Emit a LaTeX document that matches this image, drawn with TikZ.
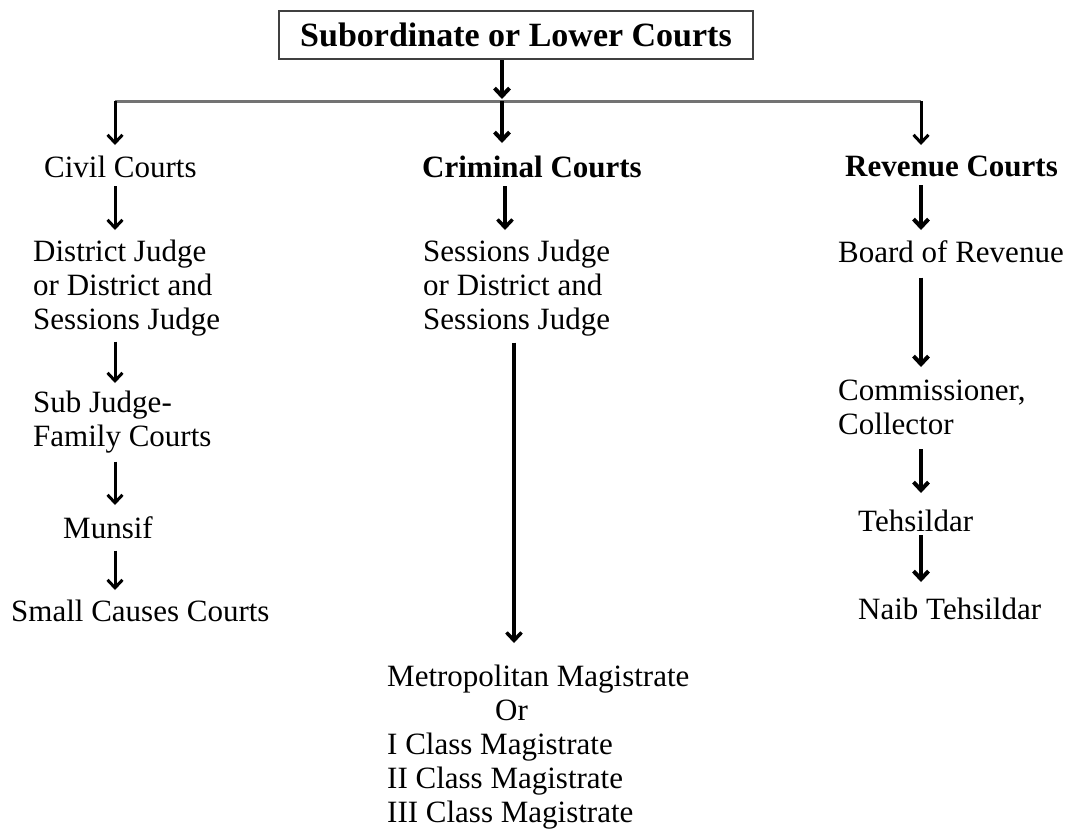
\documentclass[tikz,border=0pt]{standalone}
\usepackage{fontspec}
\setmainfont{Liberation Serif}
\usetikzlibrary{arrows.meta}
\begin{document}
\begin{tikzpicture}[x=1pt,y=-1pt,
  lbl/.style={inner sep=0pt,anchor=north west,align=left,font=\fontsize{31}{34}\selectfont},
  hdr/.style={lbl,font=\fontsize{31}{34}\selectfont\bfseries},
  arr/.style={-{Straight Barb[length=8pt,width=15pt]},line width=3pt,shorten <=8pt,shorten >=10pt},
  thk/.style={line width=4pt}]
\useasboundingbox (0,0) rectangle (1071,831);

% Top box
\node[draw=black!75,line width=2.5pt,minimum width=474pt,minimum height=48pt,
  font=\fontsize{34}{36}\selectfont\bfseries] (title) at (516,35) {Subordinate or Lower Courts};

% Branch points
\coordinate (split) at (502,101);
\coordinate (lft) at (115,101);
\coordinate (rgt) at (921,101);
\coordinate (cx) at (115,0);
\coordinate (kx) at (505,0);
\coordinate (mx) at (514,0);
\coordinate (rx) at (921,0);

% Labels
\node[lbl] (civil) at (44,156) {Civil Courts};
\node[hdr] (crim) at (422,156) {Criminal Courts};
\node[hdr] (rev) at (845,156) {Revenue Courts};
\node[lbl] (dj) at (33,240) {District Judge\\or District and\\Sessions Judge};
\node[lbl] (sub) at (33,391) {Sub Judge-\\Family Courts};
\node[lbl] (munsif) at (63,516) {Munsif};
\node[lbl] (small) at (11,600) {Small Causes Courts};
\node[lbl] (sj) at (423,240) {Sessions Judge\\or District and\\Sessions Judge};
\node[lbl] (metro) at (387,665) {Metropolitan Magistrate\\\hspace*{108pt}Or\\I Class Magistrate\\II Class Magistrate\\III Class Magistrate};
\node[lbl] (board) at (838,240) {Board of Revenue};
\node[lbl] (comm) at (838,380) {Commissioner,\\Collector};
\node[lbl] (tehs) at (858,510) {Tehsildar};
\node[lbl] (naib) at (858,598) {Naib Tehsildar};

% Top arrow and branch line
\draw[arr,thk,shorten <=0pt,shorten >=2pt] (title.south -| split) -- (split);
\draw[line width=3pt,black!55] (lft) -- (rgt);
\draw[arr,shorten <=0pt,shorten >=11pt] (lft) -- (civil.north -| lft);
\draw[arr,thk,shorten <=0pt,shorten >=13pt] (split) -- (crim.north -| split);
\draw[arr,shorten <=0pt,shorten >=11pt] (rgt) -- (rev.north -| rgt);

% Civil courts
\draw[arr] (civil.south -| cx) -- (dj.north -| cx);
\draw[arr,shorten <=5pt,shorten >=8pt] (dj.south -| cx) -- (sub.north -| cx);
\draw[arr,shorten >=11pt] (sub.south -| cx) -- (munsif.north -| cx);
\draw[arr,shorten <=12pt] (munsif.south -| cx) -- (small.north -| cx);

% Criminal courts
\draw[arr,line width=3.5pt] (crim.south -| kx) -- (sj.north -| kx);
\draw[arr,line width=3.5pt,shorten <=6pt,shorten >=22pt] (sj.south -| mx) -- (metro.north -| mx);

% Revenue courts
\draw[arr,thk] (rev.south -| rx) -- (board.north -| rx);
\draw[arr,thk,shorten <=15pt,shorten >=13pt] (board.south -| rx) -- (comm.north -| rx);
\draw[arr,thk,shorten <=14pt,shorten >=17pt] (comm.south -| rx) -- (tehs.north -| rx);
\draw[arr,thk,shorten <=3pt,shorten >=16pt] (tehs.south -| rx) -- (naib.north -| rx);
\end{tikzpicture}
\end{document}
